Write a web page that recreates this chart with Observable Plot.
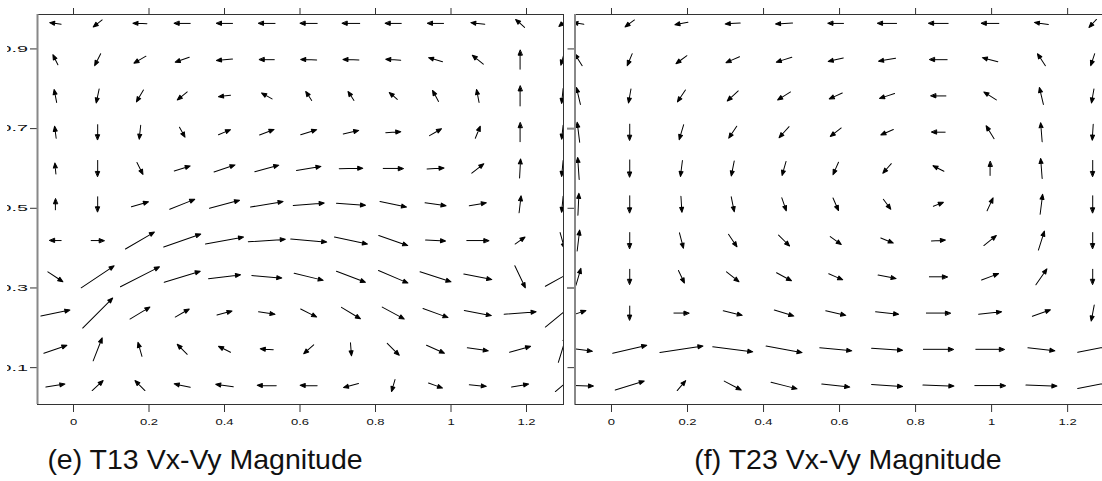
<!DOCTYPE html>
<html><head><meta charset="utf-8">
<script src="https://cdn.jsdelivr.net/npm/d3@7"></script>
<script src="https://cdn.jsdelivr.net/npm/@observablehq/plot@0.6"></script>
<style>
html,body{margin:0;padding:0;background:#fff;}
#root{position:relative;width:1102px;height:481px;overflow:hidden;background:#fff;font-family:Arial,"Liberation Sans",sans-serif;}
.panel{position:absolute;top:0;}
.panel svg{overflow:hidden;max-width:none;display:block;}
.title{position:absolute;font-size:28.5px;line-height:28.5px;color:#111;text-align:center;white-space:nowrap;}
</style></head>
<body>
<div id="root">
  <div class="panel" id="pe" style="left:7px;width:560px;"></div>
  <div class="panel" id="pf" style="left:567px;width:545px;"></div>
  <div class="title" style="left:0px;width:410px;top:445px;">(e) T13 Vx-Vy Magnitude</div>
  <div class="title" style="left:648px;width:400px;top:445px;">(f) T23 Vx-Vy Magnitude</div>
</div>
<script>
// ---- data ----
const xTicks = [0, 0.2, 0.4, 0.6, 0.8, 1, 1.2];
const xTickLabels = ["0", "0.2", "0.4", "0.6", "0.8", "1", "1.2"];
const yTicks = [0.1, 0.3, 0.5, 0.7, 0.9];
const yTickLabels = ["0.1", "0.3", "0.5", "0.7", "0.9"];

// grid rows (top to bottom)
const rowsY = [0.964, 0.873, 0.782, 0.691, 0.600, 0.510, 0.419, 0.328, 0.237, 0.146, 0.055];
// grid columns
const t13X = [-0.048, 0.064, 0.176, 0.288, 0.400, 0.512, 0.623, 0.735, 0.847, 0.959, 1.071, 1.183, 1.295];
const t23X = [-0.087, 0.048, 0.184, 0.319, 0.454, 0.590, 0.725, 0.860, 0.996, 1.131, 1.266];

// T13 velocity components (rows top to bottom)
const t13Vx = [
  [-11.5,-9,-14,-16,-16,-16.5,-17,-17.5,-16,-16,-14,-9,-7],
  [-5,-6,-12,-14,-16,-15,-16,-16,-15,-14,-11,0,-3],
  [-2.5,-3,-7,-10,-12,-10.5,-6,-6,-8,-6,-2.5,0,-1.5],
  [-1.5,0,-1.5,5.5,12,14.5,16,15.5,15,12,5,0,-1.5],
  [-1,0,6,16,21,24,24.5,23.5,20,17,12,1,-1.5],
  [0,0,17,25,30,32.5,31,29,26.5,21,17,2,-1.5],
  [-11.5,13,29,37,38,37,36,33,29,20,22,10,4.5],
  [15,33,39,36,32,30,29,29,29.5,31,28,10.5,34],
  [29,30,20,14,15,16.5,16,19,22,25,27,32,34],
  [23,9,-4,-10,-12,-13,-10,1,12,18,21,21,8],
  [19,11,-10,-16,-17.5,-19,-17,-15,-3.5,14,17,17,14]
];
const t13Vy = [
  [1.5,-7,0.5,0,0,0,0,0,0,0,1.5,8,-6],
  [10,-12,-7,-5,-1.5,0,0.5,0.5,1,4,9,19,-11],
  [13,-14,-12,-8,-1.5,6,9,9,7,11,13,20,-15],
  [12,-15,-14,-10,5,5.5,5,3.5,1,7,12,19,-14],
  [11,-16,-12,5,7,6.5,4,0.5,0,1,9.5,19,-16],
  [11,-15,5,10,8,5.5,2.5,-2,-5.5,-3,3,17,-16],
  [0,0,17,13,7,2.5,-3,-7,-10,-1,0,7,-16],
  [-10,22,20,11,4,-2.5,-7,-11,-12.5,-10,-5.5,-22,19],
  [6,30,12,8,4,-2.5,-8,-11.5,-12,-9,-5,2.5,28],
  [8,23,14,10,6,1,-9,-13,-12,-8,-3,6,26],
  [3,10,10,3.5,2.5,0.5,0.5,-4,-12,-5,-1.5,3,12]
];

// T23 velocity components (rows top to bottom)
const t23Vx = [
  [-11,-9.5,-13,-15,-17,-15.5,-19,-19.5,-17.5,-14,-7.5],
  [-7.5,-5,-11,-13.5,-15.5,-15,-17,-17.5,-15.5,-8,-4],
  [-4,-2.5,-8,-11,-13,-13,-15,-15,-12.5,-4,-2.5],
  [-2.5,0,-4.5,-8,-10,-11,-12.5,-13.5,-8,-1.5,-1],
  [-1.5,0,-2,-3,-4,-5.5,-8.5,-11,0,-1.5,0],
  [1,0,1,3,4.5,5.5,7.5,10,6,2.5,0],
  [2.5,0,4,8.5,11,11,12.5,14,12.5,6,0],
  [5,0,6,12.5,15,14,18,18,17,11,0],
  [15,0,15,19,19.5,20,23,24,23,18,-3],
  [28,34,43,40,36,32,31,30,28.5,27,30],
  [30,29,8.5,17,26,28,31,31,30.5,31,30]
];
const t23Vy = [
  [1.5,-7,-2.5,-1,-1,0,0,0,0,2,-8],
  [12,-12,-8,-6,-5,-3.5,-3,0,4,12,-12],
  [17,-14,-12,-10,-8,-6,-5,0,8,17,-14],
  [20,-16,-15,-12,-11,-8.5,-5.5,0,13,19,-16],
  [22,-17,-16,-15,-14,-12.5,-9.5,5.5,14,20,-16],
  [22,-17,-16,-15,-13,-12.5,-10,4,13,20,-17],
  [21,-16,-15.5,-12.5,-11,-8,-5,1,10,19,-16],
  [17,-15,-12.5,-10,-8,-6,-3.5,0,6.5,16,-15],
  [5,-14,0,-4.5,-6,-4.5,-2.5,0,2.5,6.5,-16],
  [-4,8,6.5,-5,-6.5,-3,-2,0,0,-3,6],
  [-1,9,10,-9,-6.5,-3,-2,-1,0,-1,6]
];

// ---- drawing ----
const arrowHead = {
  draw(ctx, l) {
    const h = Math.min(5, l * 0.5), w = 2;
    ctx.moveTo(0, 0);
    ctx.lineTo(0, -l + h);
    ctx.moveTo(0, -l);
    ctx.lineTo(-w, -l + h);
    ctx.lineTo(w, -l + h);
    ctx.closePath();
  }
};

const yDomain = [0.0075, 0.9864];

function field(xs, vx, vy) {
  const out = [];
  rowsY.forEach((y, i) => xs.forEach((x, j) => {
    const u = vx[i][j], v = vy[i][j];
    out.push({x, y, len: Math.hypot(u, v), rot: Math.atan2(u, v) * 180 / Math.PI});
  }));
  return out;
}

// widen tick label glyphs horizontally around their anchor point
function stretch(svg, labels, s) {
  const nodes = Array.from(svg.querySelectorAll("text")).filter((n) => labels.includes(n.textContent));
  nodes.forEach((n) => {
    const t = n.getAttribute("transform") || "";
    const x = n.getAttribute("x");
    let pre = "";
    if (x !== null && x !== "" && !isNaN(+x)) { pre = ` translate(${+x},0)`; n.removeAttribute("x"); }
    n.setAttribute("transform", `${t}${pre} scale(${s},1)`);
  });
}

function panel({xs, vx, vy, xDomain, width, marginLeft, marginRight, yLabels, extraGray}) {
  const data = field(xs, vx, vy);
  const marks = [
    Plot.vector(data, {x: "x", y: "y", length: "len", rotate: "rot", anchor: "middle",
      shape: arrowHead, stroke: "black", fill: "black", strokeWidth: 1, clip: true}),
    Plot.axisX({anchor: "bottom", ticks: xTicks, tickSize: 8, tickFormat: () => "", label: null, stroke: "#333"}),
    Plot.axisX({anchor: "top", ticks: xTicks, tickSize: 7, tickFormat: () => "", label: null, stroke: "#333"}),
    Plot.axisY({anchor: "left", ticks: yTicks, tickSize: 7, tickFormat: () => "", label: null, stroke: "#333"}),
    Plot.text(xTicks, {x: (d) => d, y: () => yDomain[0], text: (d, i) => xTickLabels[i],
      lineAnchor: "top", dy: 14, fontSize: 9, fill: "#111"}),
    Plot.frame({stroke: "#333", strokeWidth: 1}),
    Plot.ruleX([xDomain[0]], {stroke: "#888", strokeWidth: 2})
  ];
  if (yLabels) marks.push(Plot.text(yTicks, {x: () => xDomain[0], y: (d) => d, text: (d, i) => yTickLabels[i],
      textAnchor: "start", dx: -36.9, fontSize: 9, fill: "#111"}));
  if (extraGray) marks.push(Plot.axisY({anchor: "left", ticks: extraGray, tickSize: 9, tickFormat: () => "", label: null, stroke: "#888", strokeWidth: 2}));
  const svg = Plot.plot({
    width, height: 440, marginLeft, marginRight, marginTop: 14, marginBottom: 36,
    x: {domain: xDomain, label: null, axis: null},
    y: {domain: yDomain, label: null, axis: null},
    length: {type: "identity"},
    style: {fontFamily: "Arial, 'Liberation Sans', sans-serif", background: "white", overflow: "hidden"},
    marks
  });
  stretch(svg, xTickLabels, 1.45);
  if (yLabels) stretch(svg, yTickLabels, 2.2);
  return svg;
}

document.getElementById("pe").appendChild(panel({
  xs: t13X, vx: t13Vx, vy: t13Vy, xDomain: [-0.0954, 1.298],
  width: 560, marginLeft: 30, marginRight: 4, yLabels: true
}));
document.getElementById("pf").appendChild(panel({
  xs: t23X, vx: t23Vx, vy: t23Vy, xDomain: [-0.096, 1.297],
  width: 545, marginLeft: 7.5, marginRight: 8, yLabels: false, extraGray: [0.3, 0.7]
}));
</script>
</body></html>
